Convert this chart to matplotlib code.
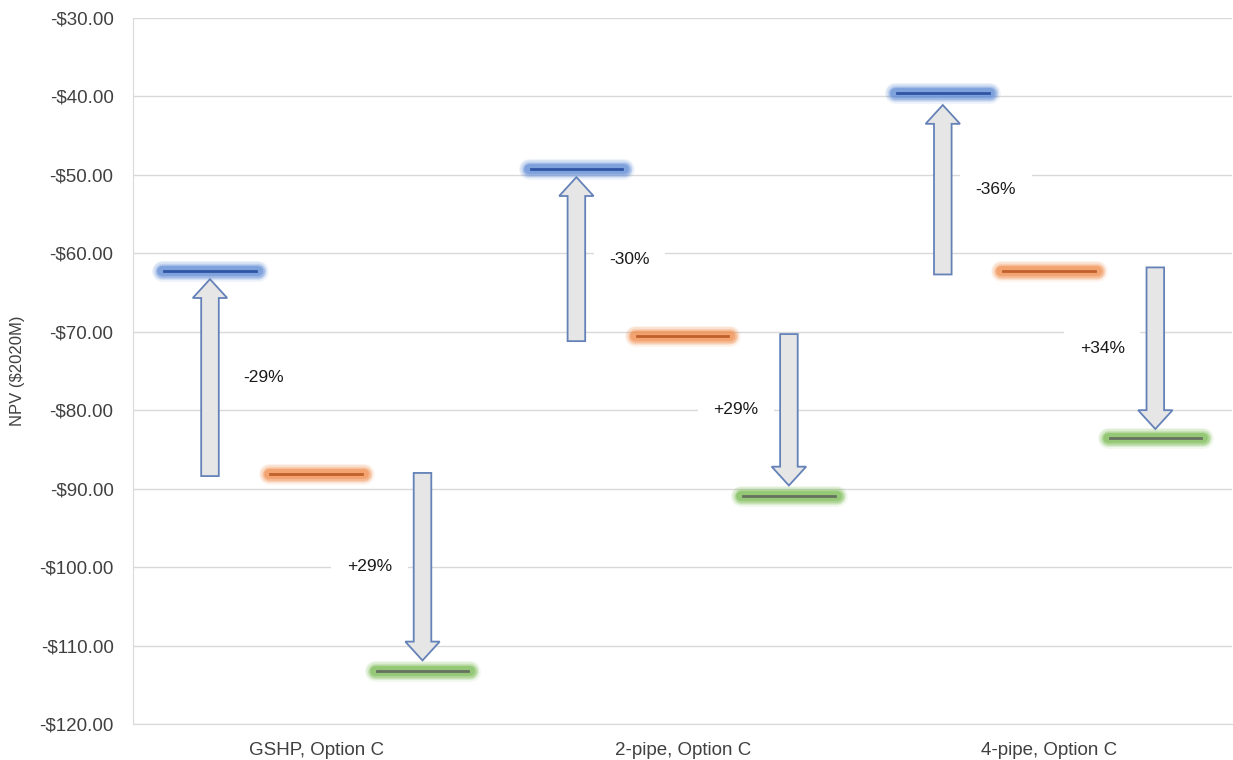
import numpy as np
import matplotlib.pyplot as plt
from matplotlib.patches import FancyArrow

plt.rcParams["font.family"] = ["Liberation Sans", "DejaVu Sans"]

# datos
categorias = ["GSHP, Option C", "2-pipe, Option C", "4-pipe, Option C"]
npv_azul = [-62.2, -49.3, -39.6]
npv_naranja = [-88.1, -70.6, -62.3]
npv_verde = [-113.3, -91.0, -83.5]

flecha_sube_ini = [-88.4, -71.2, -62.7]
flecha_sube_fin = [-63.3, -50.3, -41.1]
flecha_baja_ini = [-88.0, -70.3, -61.8]
flecha_baja_fin = [-111.9, -89.6, -82.4]

etiq_sube = ["-29%", "-30%", "-36%"]
etiq_baja = ["+29%", "+29%", "+34%"]

ticks_y = np.arange(-120, -20, 10)

series = [
    (npv_azul, -0.29, "#5d8ad6", "#2f55a4"),
    (npv_naranja, 0.0, "#f08c4a", "#c0602a"),
    (npv_verde, 0.29, "#79bb52", "#66725f"),
]

fig = plt.figure(figsize=(12.33, 7.6), dpi=100)
ax = fig.add_axes([0.1079, 0.0474, 0.8915, 0.929])

x = np.arange(len(categorias))
medio = 0.13

for valores, desp, c_brillo, c_linea in series:
    for xi, v in zip(x, valores):
        xs = [xi + desp - medio, xi + desp + medio]
        for lw, a in [(15, 0.1), (13, 0.15), (11, 0.22), (9, 0.35), (7, 0.45)]:
            ax.plot(xs, [v, v], color=c_brillo, lw=lw, alpha=a,
                    solid_capstyle="round", zorder=3)
        ax.plot([xs[0] + 0.005, xs[1] - 0.005], [v, v], color=c_linea,
                lw=2, zorder=4)

# flechas
ancho = 0.048
ancho_cabeza = 0.094
largo_cabeza = 2.4
for xi in x:
    for ini, fin, desp, txt in [
        (flecha_sube_ini[xi], flecha_sube_fin[xi], -0.29, etiq_sube[xi]),
        (flecha_baja_ini[xi], flecha_baja_fin[xi], 0.29, etiq_baja[xi]),
    ]:
        fl = FancyArrow(xi + desp, ini, 0, fin - ini, width=ancho,
                        head_width=ancho_cabeza, head_length=largo_cabeza,
                        length_includes_head=True, facecolor="#e7e6e6",
                        edgecolor="#6482b8", lw=1.3, zorder=5)
        ax.add_patch(fl)
        ax.text(xi + desp / 2, (ini + fin) / 2, txt, ha="center",
                va="center", fontsize=12.5, color="#1a1a1a", zorder=2,
                bbox=dict(boxstyle="square,pad=0.9", fc="white", ec="none"))

ax.set_xlim(-0.5, 2.5)
ax.set_ylim(-120, -30)
ax.set_yticks(ticks_y)
ax.set_yticklabels(["-\\$%.2f" % abs(t) for t in ticks_y])
ax.set_xticks(x)
ax.set_xticklabels(categorias)
ax.tick_params(length=0, labelsize=13.5, colors="#404040")
ax.tick_params(axis="x", pad=13)
ax.tick_params(axis="y", pad=14)
ax.grid(axis="y", color="#d9d9d9", lw=1)
ax.set_axisbelow(True)
for s in ["top", "right"]:
    ax.spines[s].set_visible(False)
ax.spines["left"].set_color("#d9d9d9")
ax.spines["bottom"].set_color("#d9d9d9")
ax.set_ylabel("NPV (\\$2020M)", fontsize=12, color="#404040", labelpad=10)

plt.savefig("out.png", dpi=100)
